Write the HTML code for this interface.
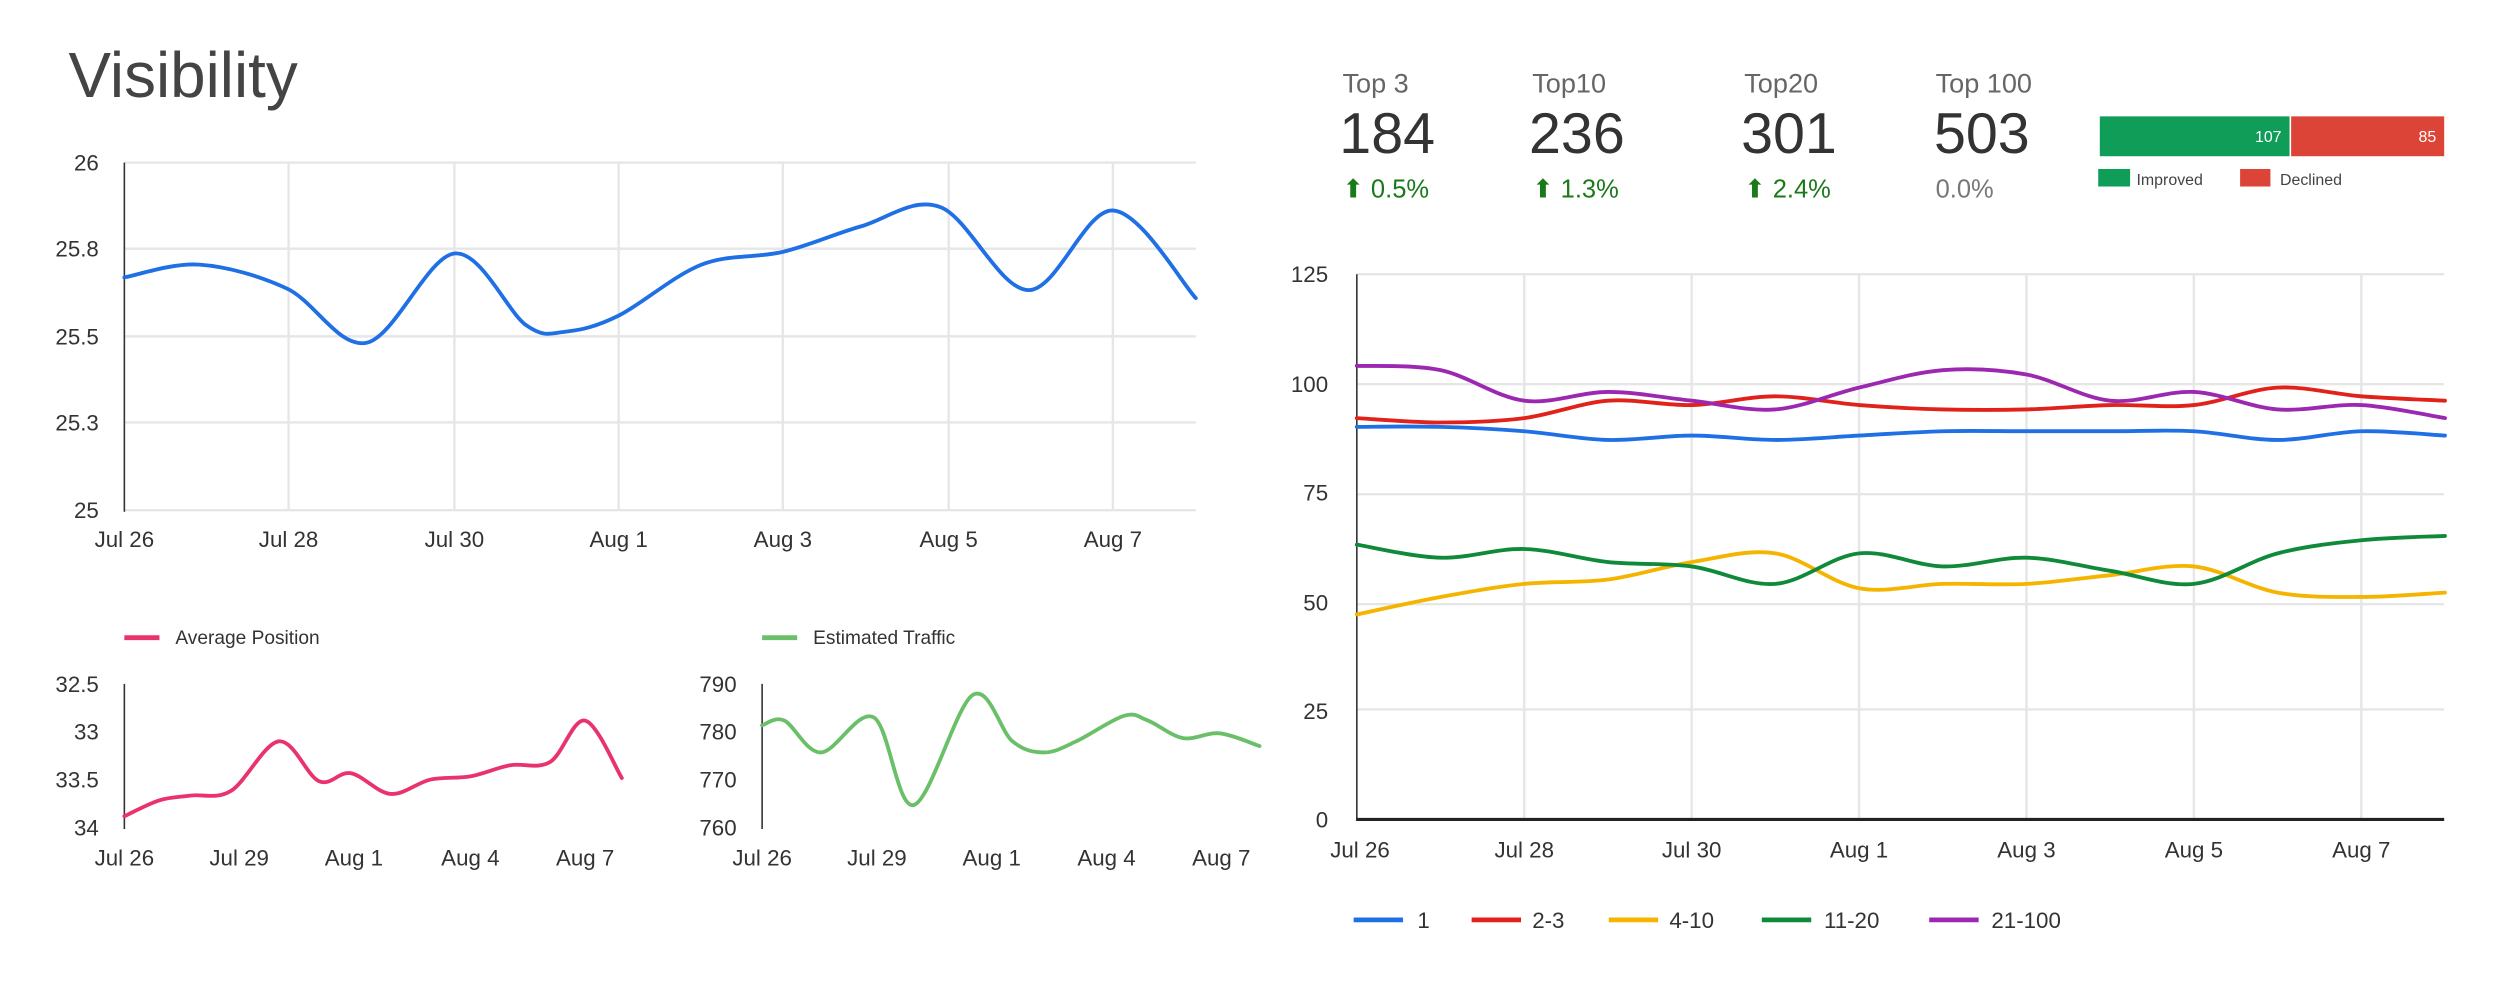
<!DOCTYPE html>
<html><head><meta charset="utf-8"><style>
html,body{margin:0;padding:0;background:#fff;}
svg{display:block;}
text{font-family:"Liberation Sans",sans-serif;}
</style></head><body>
<svg id="s" width="2500" height="990" viewBox="0 0 1568 621" preserveAspectRatio="none" xmlns="http://www.w3.org/2000/svg">
<rect width="1568" height="621" fill="#fff"/>
<text x="43" y="61" font-size="40" fill="#444">Visibility</text>
<g stroke="#e6e6e6" stroke-width="1.5">
<line x1="78" y1="102" x2="750" y2="102"/><line x1="78" y1="156" x2="750" y2="156"/><line x1="78" y1="211" x2="750" y2="211"/><line x1="78" y1="265" x2="750" y2="265"/><line x1="78" y1="320" x2="750" y2="320"/>
<line x1="181" y1="102" x2="181" y2="320"/><line x1="285" y1="102" x2="285" y2="320"/><line x1="388" y1="102" x2="388" y2="320"/><line x1="491" y1="102" x2="491" y2="320"/><line x1="595" y1="102" x2="595" y2="320"/><line x1="698" y1="102" x2="698" y2="320"/>
</g>
<line x1="78" y1="102" x2="78" y2="321" stroke="#333" stroke-width="1"/>
<g font-size="14" fill="#333" text-anchor="end">
<text x="62" y="107">26</text><text x="62" y="161">25.8</text><text x="62" y="216">25.5</text><text x="62" y="270">25.3</text><text x="62" y="325">25</text>
</g>
<g font-size="14" fill="#333" text-anchor="middle">
<text x="78" y="343">Jul 26</text><text x="181" y="343">Jul 28</text><text x="285" y="343">Jul 30</text><text x="388" y="343">Aug 1</text><text x="491" y="343">Aug 3</text><text x="595" y="343">Aug 5</text><text x="698" y="343">Aug 7</text>
</g>

<line x1="78" y1="400" x2="100" y2="400" stroke="#e8336d" stroke-width="3"/>
<text x="110" y="404" font-size="12" fill="#333">Average Position</text>
<line x1="78" y1="429" x2="78" y2="520" stroke="#333"/>
<g font-size="14" fill="#333" text-anchor="end">
<text x="62" y="434">32.5</text><text x="62" y="464">33</text><text x="62" y="494">33.5</text><text x="62" y="524">34</text>
</g>
<g font-size="14" fill="#333" text-anchor="middle">
<text x="78" y="543">Jul 26</text><text x="150" y="543">Jul 29</text><text x="222" y="543">Aug 1</text><text x="295" y="543">Aug 4</text><text x="367" y="543">Aug 7</text>
</g>

<line x1="478" y1="400" x2="500" y2="400" stroke="#6abf69" stroke-width="3"/>
<text x="510" y="404" font-size="12" fill="#333">Estimated Traffic</text>
<line x1="478" y1="429" x2="478" y2="520" stroke="#333"/>
<g font-size="14" fill="#333" text-anchor="end">
<text x="462" y="434">790</text><text x="462" y="464">780</text><text x="462" y="494">770</text><text x="462" y="524">760</text>
</g>
<g font-size="14" fill="#333" text-anchor="middle">
<text x="478" y="543">Jul 26</text><text x="550" y="543">Jul 29</text><text x="622" y="543">Aug 1</text><text x="694" y="543">Aug 4</text><text x="766" y="543">Aug 7</text>
</g>

<g font-size="17" fill="#666">
<text x="842" y="58">Top 3</text><text x="961" y="58">Top10</text><text x="1094" y="58">Top20</text><text x="1214" y="58">Top 100</text>
</g>
<g font-size="36" fill="#333">
<text x="840" y="96">184</text><text x="959" y="96">236</text><text x="1092" y="96">301</text><text x="1213" y="96">503</text>
</g>
<g font-size="16" fill="#1a7a1a">
<text x="842" y="124">⬆ 0.5%</text><text x="961" y="124">⬆ 1.3%</text><text x="1094" y="124">⬆ 2.4%</text>
</g>
<text x="1214" y="124" font-size="16" fill="#777">0.0%</text>
<rect x="1317" y="73" width="119" height="25" fill="#0f9d58"/>
<rect x="1437" y="73" width="96" height="25" fill="#db4437"/>
<text x="1431" y="89" font-size="10" fill="#fff" text-anchor="end">107</text>
<text x="1528" y="89" font-size="10" fill="#fff" text-anchor="end">85</text>
<rect x="1316" y="106" width="20" height="11" fill="#0f9d58"/>
<text x="1340" y="116" font-size="10" fill="#444">Improved</text>
<rect x="1405" y="106" width="19" height="11" fill="#db4437"/>
<text x="1430" y="116" font-size="10" fill="#444">Declined</text>

<g id="rg" stroke="#e6e6e6" stroke-width="1.5"></g>
<line x1="851" y1="172" x2="851" y2="515" stroke="#333"/>
<line x1="851" y1="514" x2="1533" y2="514" stroke="#222" stroke-width="2"/>
<g font-size="14" fill="#333" text-anchor="end">
<text x="833" y="177">125</text><text x="833" y="246">100</text><text x="833" y="314">75</text><text x="833" y="383">50</text><text x="833" y="451">25</text><text x="833" y="519">0</text>
</g>
<g font-size="14" fill="#333" text-anchor="middle">
<text x="853" y="538">Jul 26</text><text x="956" y="538">Jul 28</text><text x="1061" y="538">Jul 30</text><text x="1166" y="538">Aug 1</text><text x="1271" y="538">Aug 3</text><text x="1376" y="538">Aug 5</text><text x="1481" y="538">Aug 7</text>
</g>
<g font-size="14" fill="#333">
<line x1="849" y1="577" x2="880" y2="577" stroke="#1f6fe5" stroke-width="3"/><text x="889" y="582">1</text>
<line x1="923" y1="577" x2="954" y2="577" stroke="#e0221b" stroke-width="3"/><text x="961" y="582">2-3</text>
<line x1="1009" y1="577" x2="1040" y2="577" stroke="#f4b400" stroke-width="3"/><text x="1047" y="582">4-10</text>
<line x1="1105" y1="577" x2="1136" y2="577" stroke="#0f8a3a" stroke-width="3"/><text x="1144" y="582">11-20</text>
<line x1="1210" y1="577" x2="1241" y2="577" stroke="#9c27b0" stroke-width="3"/><text x="1249" y="582">21-100</text>
</g>
<g id="lines" fill="none" stroke-width="2.4" stroke-linejoin="round" stroke-linecap="round"></g>
</svg>
<script>
var NS="http://www.w3.org/2000/svg";
function cr(p){var d="M"+p[0][0]+","+p[0][1];for(var i=0;i<p.length-1;i++){var a=p[i-1]||p[i],b=p[i],c=p[i+1],e=p[i+2]||c;d+=" C"+(b[0]+(c[0]-a[0])/6)+","+(b[1]+(c[1]-a[1])/6)+" "+(c[0]-(e[0]-b[0])/6)+","+(c[1]-(e[1]-b[1])/6)+" "+c[0]+","+c[1];}return d;}
var L=document.getElementById("lines");
function add(p,col){var e=document.createElementNS(NS,"path");e.setAttribute("d",cr(p));e.setAttribute("stroke",col);L.appendChild(e);}
var rg=document.getElementById("rg");
[172,241,310,379,445].forEach(function(y){var l=document.createElementNS(NS,"line");l.setAttribute("x1",851);l.setAttribute("x2",1533);l.setAttribute("y1",y);l.setAttribute("y2",y);rg.appendChild(l);});
[956,1061,1166,1271,1376,1481].forEach(function(x){var l=document.createElementNS(NS,"line");l.setAttribute("x1",x);l.setAttribute("x2",x);l.setAttribute("y1",172);l.setAttribute("y2",514);rg.appendChild(l);});
add([[78,174],[125,166],[180,181],[230,215],[285,159],[330,204],[355,208],[388,198],[440,166],[491,158],[540,142],[590,130],[645,182],[698,132],[750,187]],"#1f6fe5");
add([[78,512],[100,502],[120,499],[145,496],[175,465],[200,490],[220,485],[245,498],[270,489],[295,487],[320,480],[345,478],[367,452],[390,488]],"#e8336d");
add([[478,455],[492,452],[515,472],[548,450],[573,505],[610,436],[635,465],[655,472],[675,465],[705,449],[720,452],[742,463],[765,460],[790,468]],"#6abf69");
var S={"#1f6fe5":[90,90,89,87,88,87,88,89,89,89,89,87,89,88],
"#e0221b":[92,91,92,96,95,97,95,94,94,95,95,99,97,96],
"#f4b400":[47,51,54,55,59,61,53,54,54,56,58,52,51,52],
"#0f8a3a":[63,60,62,59,58,54,61,58,60,57,54,61,64,65],
"#9c27b0":[104,103,96,98,96,94,99,103,102,96,98,94,95,92]};
for(var k in S){add(S[k].map(function(v,i){return [851+i*52.5,514-v*2.736];}),k);}
</script>
</body></html>
